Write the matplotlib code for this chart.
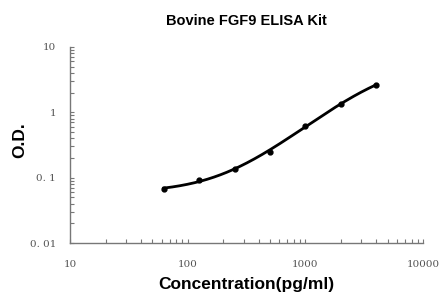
import matplotlib
matplotlib.use("Agg")
import matplotlib.pyplot as plt
import numpy as np

# standard curve data
conc = [62.5, 125, 250, 500, 1000, 2000, 4000]
od = [0.068, 0.093, 0.137, 0.25, 0.62, 1.35, 2.6]

yticks = [0.01, 0.1, 1, 10]
ylabels = ["0. 01", "0. 1", "1", "10"]
xticks = [10, 100, 1000, 10000]
xlabels = ["10", "100", "1000", "10000"]

fig = plt.figure(figsize=(4.41, 2.95), dpi=100)
ax = fig.add_axes([0.159, 0.176, 0.8, 0.665])

# 4 parameter logistic fit: grid over the asymptotes, linear fit for the rest
x = np.array(conc)
y = np.array(od)
best = None
for a in np.linspace(0, 0.065, 66):
    for d in np.logspace(0.45, 2, 80):
        z = np.log((y - a) / (d - y))
        b, k = np.polyfit(np.log(x), z, 1)
        fit = a + (d - a) / (1 + np.exp(-(b * np.log(x) + k)))
        err = np.sum((np.log(fit) - np.log(y)) ** 2)
        if best is None or err < best[0]:
            best = (err, a, d, b, k)
_, a, d, b, k = best
xs = np.logspace(np.log10(x[0]), np.log10(x[-1]), 200)
ax.plot(xs, a + (d - a) / (1 + np.exp(-(b * np.log(xs) + k))), color="black", lw=2)
ax.plot(conc, od, "o", color="black", ms=3.5)

ax.set_xscale("log")
ax.set_yscale("log")
ax.set_xlim(10, 10000)
ax.set_ylim(0.01, 10)
ax.set_xticks(xticks)
ax.set_xticklabels(xlabels)
ax.set_yticks(yticks)
ax.set_yticklabels(ylabels)

for s in ["top", "right"]:
    ax.spines[s].set_visible(False)
for s in ["left", "bottom"]:
    ax.spines[s].set_color("#777777")
    ax.spines[s].set_linewidth(1)
ax.tick_params(which="both", direction="in", color="#777777", labelcolor="#555555",
               labelsize=7.5, length=3, width=0.8)
ax.tick_params(axis="x", which="major", pad=12)
ax.tick_params(axis="y", which="major", pad=10)
for t in ax.get_xticklabels() + ax.get_yticklabels():
    t.set_family("DejaVu Serif")

ax.set_title("Bovine FGF9 ELISA Kit", fontsize=10.5, fontweight="bold",
             family="Liberation Sans", pad=16)
ax.set_xlabel("Concentration(pg/ml)", fontsize=12.5, fontweight="bold",
              family="Liberation Sans")
ax.xaxis.set_label_coords(0.5, -0.175)
ax.set_ylabel("O.D.", fontsize=12.5, fontweight="bold", family="Liberation Sans")
ax.yaxis.set_label_coords(-0.122, 0.525)

fig.savefig("out.png", dpi=100)
